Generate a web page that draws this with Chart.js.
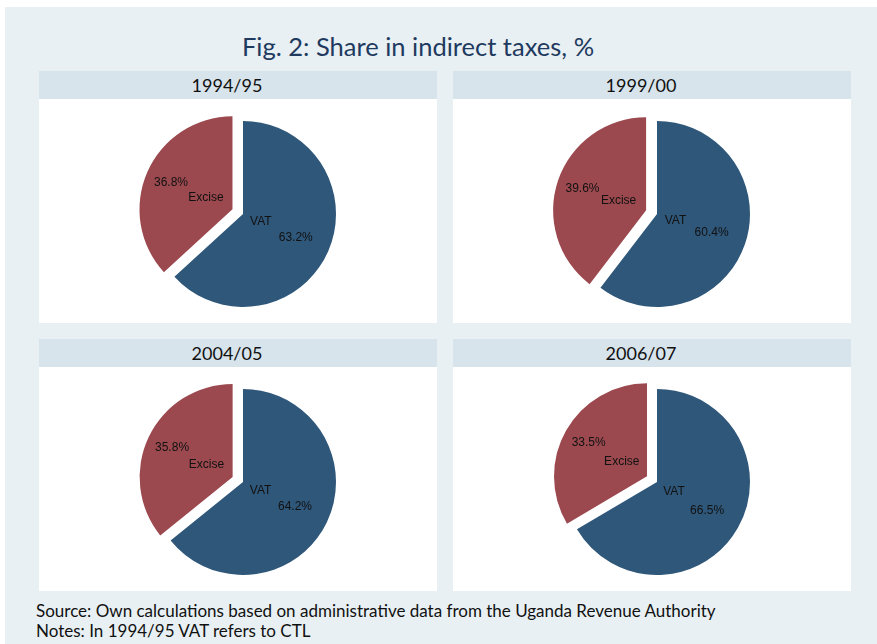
<!DOCTYPE html>
<html lang="en">
<head>
    <meta charset="UTF-8">
    <title>Fig. 2: Share in indirect taxes, %</title>
    <style>
        body { margin: 0; background: #ffffff; width: 877px; height: 644px; overflow: hidden; position: relative; }
        .fundo { position: absolute; left: 5px; top: 7px; width: 872px; height: 637px; background: #e8f0f3; }
        .titulo { position: absolute; left: 118px; width: 600px; top: 29px; text-align: center;
                  font-family: Lato, sans-serif; font-size: 25.5px; color: #1f3a5f; line-height: 34px; }
        .painel { position: absolute; width: 398px; }
        .cabecalho { height: 28px; background: #d8e4eb; text-align: center; padding-right: 22px; box-sizing: border-box;
                     font-family: Lato, sans-serif; font-size: 18px; line-height: 29px; color: #111; }
        .painel canvas { display: block; background: #ffffff; }
        .nota { position: absolute; left: 36px; font-family: Lato, sans-serif; font-size: 17px; color: #111; line-height: 20px; }
    </style>
</head>
<body>
    <div class="fundo"></div>
    <div class="titulo">Fig. 2: Share in indirect taxes, %</div>
    <div class="painel" style="left:39px; top:71px;"><div class="cabecalho" id="cab0"></div><canvas id="pie0" width="398" height="224"></canvas></div>
    <div class="painel" style="left:453px; top:71px;"><div class="cabecalho" id="cab1"></div><canvas id="pie1" width="398" height="224"></canvas></div>
    <div class="painel" style="left:39px; top:339px;"><div class="cabecalho" id="cab2"></div><canvas id="pie2" width="398" height="224"></canvas></div>
    <div class="painel" style="left:453px; top:339px;"><div class="cabecalho" id="cab3"></div><canvas id="pie3" width="398" height="224"></canvas></div>
    <div class="nota" style="top:601px;">Source: Own calculations based on administrative data from the Uganda Revenue Authority</div>
    <div class="nota" style="top:621px;">Notes: In 1994/95 VAT refers to CTL</div>

<script src="https://cdn.jsdelivr.net/npm/chart.js"></script>
<script>
    const years = ['1994/95', '1999/00', '2004/05', '2006/07'];
    const taxLabels = ['VAT', 'Excise'];
    const vatShare = [63.2, 60.4, 64.2, 66.5];
    const exciseShare = [36.8, 39.6, 35.8, 33.5];

    const cores = ['#2f577a', '#9b494f'];
    const explode = [0, 11.5];

    // move the exploded slice out along its middle angle, keeping its radius
    const explodePlugin = {
        id: 'explode',
        afterUpdate(chart) {
            const meta = chart.getDatasetMeta(0);
            meta.data.forEach((arc, i) => {
                const d = explode[i] || 0;
                if (!d) return;
                const mid = (arc.startAngle + arc.endAngle) / 2;
                arc.x += Math.cos(mid) * d;
                arc.y += Math.sin(mid) * d;
            });
        }
    };

    // name + percent inside each slice, like the stata plabels
    const rotulosPlugin = {
        id: 'rotulos',
        afterDatasetsDraw(chart) {
            const ctx = chart.ctx;
            const meta = chart.getDatasetMeta(0);
            const valores = chart.data.datasets[0].data;
            ctx.save();
            ctx.font = '12px "Liberation Sans", Arial, sans-serif';
            ctx.fillStyle = '#111111';
            ctx.textAlign = 'center';
            ctx.textBaseline = 'middle';
            meta.data.forEach((arc, i) => {
                const mid = (arc.startAngle + arc.endAngle) / 2;
                const extra = explode[i] ? 9.5 : 0;
                const r = arc.outerRadius;
                const dNome = r * 0.21 + extra;
                const dPct = r * 0.62 + extra;
                ctx.fillText(chart.data.labels[i], arc.x + Math.cos(mid) * dNome, arc.y + Math.sin(mid) * dNome);
                ctx.fillText(valores[i].toFixed(1) + '%', arc.x + Math.cos(mid) * dPct, arc.y + Math.sin(mid) * dPct);
            });
            ctx.restore();
        }
    };

    for (let i = 0; i < years.length; i++) {
        document.getElementById(`cab${i}`).textContent = years[i];
        new Chart(document.getElementById(`pie${i}`), {
            type: 'pie',
            data: {
                labels: taxLabels,
                datasets: [{
                    data: [vatShare[i], exciseShare[i]],
                    backgroundColor: cores,
                    borderWidth: 0
                }]
            },
            options: {
                responsive: false,
                animation: false,
                radius: 93,
                events: [],
                layout: { padding: { left: 10, top: 6 } },
                plugins: {
                    legend: { display: false },
                    tooltip: { enabled: false }
                }
            },
            plugins: [explodePlugin, rotulosPlugin]
        });
    }
</script>
</body>
</html>
